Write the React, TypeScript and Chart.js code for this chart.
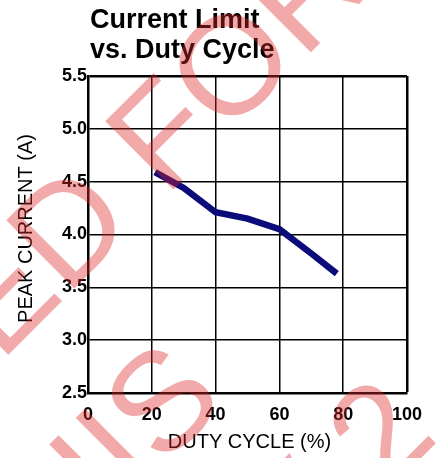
import React, { useEffect, useRef } from "react";
import { Chart, registerables } from "chart.js";
Chart.register(...registerables);

const dutyCycle = [21, 30, 40, 50, 60, 70, 78];
const peakCurrent = [4.59, 4.44, 4.21, 4.15, 4.05, 3.82, 3.63];
const xTicks = [0, 20, 40, 60, 80, 100];
const yTicks = [2.5, 3.0, 3.5, 4.0, 4.5, 5.0, 5.5];
const titleLines = ["Current Limit", "vs. Duty Cycle"];
const xTitle = "DUTY CYCLE (%)";
const yTitle = "PEAK CURRENT (A)";
const watermarkLines = ["NOT RECOMMENDED FOR NEW DESIGNS", "THIS", "REV 2"];
const watermarkAnchors = ["FOR", "IS", "2"];

const FONT = "'Liberation Sans', Arial, Helvetica, sans-serif";

const textPlugin = {
  id: "texts",
  afterDraw(chart: any) {
    const ctx = chart.ctx as CanvasRenderingContext2D;
    const area = chart.chartArea;
    ctx.save();
    ctx.fillStyle = "#000";
    ctx.textAlign = "left";
    ctx.textBaseline = "alphabetic";
    ctx.font = `bold 27px ${FONT}`;
    ctx.fillText(titleLines[0], 90, 28);
    ctx.fillText(titleLines[1], 90, 58);

    ctx.font = `20px ${FONT}`;
    ctx.textAlign = "center";
    ctx.textBaseline = "middle";
    ctx.fillText(xTitle, (area.left + area.right) / 2 + 2, 442);
    ctx.save();
    ctx.translate(25, (area.top + area.bottom) / 2 - 6);
    ctx.rotate(-Math.PI / 2);
    ctx.fillText(yTitle, 0, 1);
    ctx.restore();

    // watermark
    ctx.translate(173, 187);
    ctx.rotate(-Math.PI / 4);
    ctx.font = `140px ${FONT}`;
    ctx.fillStyle = "rgba(220,40,40,0.4)";
    ctx.textAlign = "left";
    ctx.textBaseline = "alphabetic";
    const anchorPos = [
      [-13, 2],
      [-245, 191],
      [-66, 367],
    ];
    watermarkLines.forEach((line, i) => {
      const idx = line.lastIndexOf(watermarkAnchors[i]);
      const pre = ctx.measureText(line.slice(0, idx)).width;
      ctx.fillText(line, anchorPos[i][0] - pre, anchorPos[i][1]);
    });
    ctx.restore();
  },
};

export default function App() {
  const ref = useRef<HTMLCanvasElement>(null);
  useEffect(() => {
    document.body.style.margin = "0";
    const canvas = ref.current!;
    const thick = (v: number, edge: number) => (v === edge ? 2.5 : 1.5);
    const chart = new Chart(canvas, {
      type: "line",
      data: {
        datasets: [
          {
            data: dutyCycle.map((x, i) => ({ x, y: peakCurrent[i] })),
            borderColor: "#0b0b7a",
            borderWidth: 6.5,
            pointRadius: 0,
            tension: 0,
            borderCapStyle: "butt",
            borderJoinStyle: "miter",
          },
        ],
      },
      options: {
        responsive: false,
        animation: false,
        layout: { padding: { top: 76, right: 31, left: 0, bottom: 0 } },
        plugins: { legend: { display: false }, tooltip: { enabled: false }, title: { display: false } },
        scales: {
          x: {
            type: "linear",
            min: 0,
            max: 100,
            afterBuildTicks: (s: any) => {
              s.ticks = xTicks.map((v) => ({ value: v }));
            },
            afterFit: (s: any) => {
              s.height = 65;
            },
            ticks: {
              color: "#000",
              padding: 11,
              maxRotation: 0,
              font: { family: FONT, size: 18, weight: "bold" },
              callback: (v: any) => String(v),
            },
            grid: {
              color: "#000",
              lineWidth: (c: any) => thick(c.tick ? c.tick.value : -1, 100),
              drawTicks: false,
            },
            border: { color: "#000", width: 2.5 },
          },
          y: {
            type: "linear",
            min: 2.5,
            max: 5.5,
            afterBuildTicks: (s: any) => {
              s.ticks = yTicks.map((v) => ({ value: v }));
            },
            afterFit: (s: any) => {
              s.width = 88;
            },
            ticks: {
              color: "#000",
              padding: 1,
              font: { family: FONT, size: 18, weight: "bold" },
              callback: (v: any) => Number(v).toFixed(1),
            },
            grid: {
              color: "#000",
              lineWidth: (c: any) => thick(c.tick ? c.tick.value : -1, 5.5),
              drawTicks: false,
            },
            border: { color: "#000", width: 2.5 },
          },
        },
      },
      plugins: [textPlugin],
    } as any);
    return () => chart.destroy();
  }, []);
  return (
    <div style={{ width: 438, height: 458 }}>
      <canvas ref={ref} width={438} height={458} style={{ display: "block" }} />
    </div>
  );
}
